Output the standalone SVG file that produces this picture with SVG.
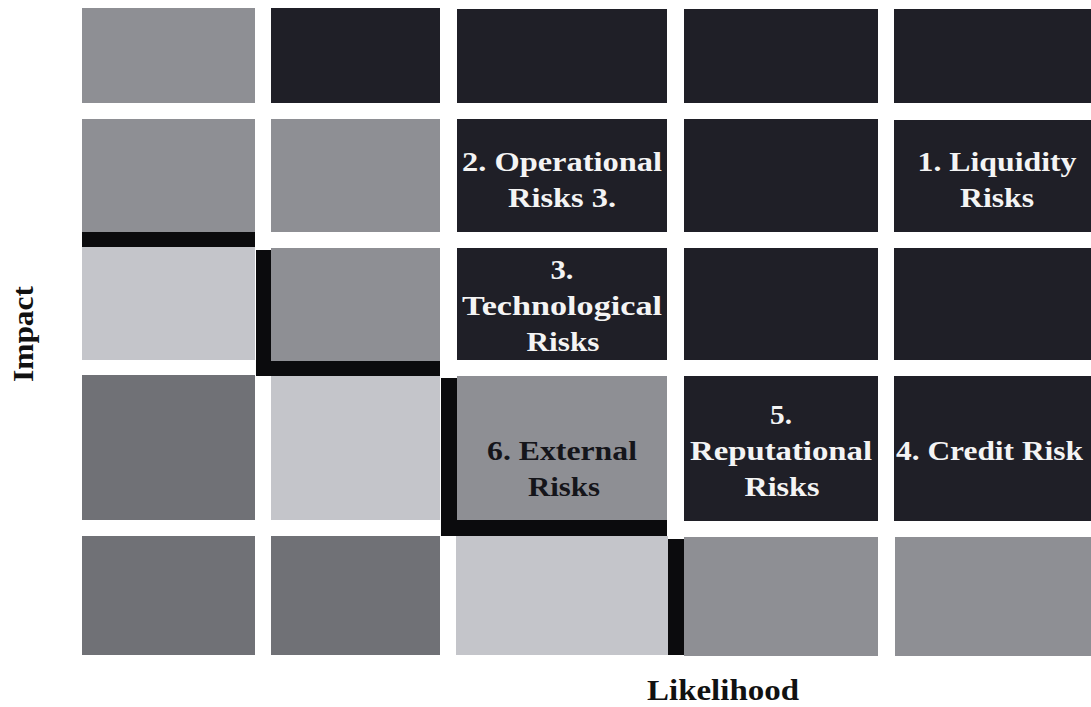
<svg xmlns="http://www.w3.org/2000/svg" width="1091" height="707" viewBox="0 0 1091 707">
<style>
.dark{fill:#1f1f27}
.mid{fill:#8e8f94}
.light{fill:#c4c5ca}
.dim{fill:#707176}
.bar{fill:#0b0b0d}
.t{font-family:"Liberation Serif","DejaVu Serif",serif;font-weight:bold;font-size:28px;text-anchor:middle}
.w{fill:#f4f4f4}
.k{fill:#15151a}
.ax{font-family:"Liberation Serif","DejaVu Serif",serif;font-weight:bold;font-size:29px;fill:#111;text-anchor:middle}
</style>
<rect width="1091" height="707" fill="#ffffff"/>
<!-- row 1 -->
<g id="r1c1"><rect class="mid" x="82" y="8" width="173" height="95"/></g>
<g id="r1c2"><rect class="dark" x="271" y="8" width="169" height="95"/></g>
<g id="r1c3"><rect class="dark" x="457" y="9" width="210" height="94"/></g>
<g id="r1c4"><rect class="dark" x="684" y="9" width="194" height="94"/></g>
<g id="r1c5"><rect class="dark" x="894" y="9" width="200" height="94"/></g>
<!-- row 2 -->
<g id="r2c1"><rect class="mid" x="82" y="119" width="173" height="113"/></g>
<g id="r2c2"><rect class="mid" x="271" y="119" width="169" height="113"/></g>
<g id="r2c3"><rect class="dark" x="457" y="119" width="210" height="113"/>
<text class="t w" x="562" y="171" textLength="200" lengthAdjust="spacingAndGlyphs">2. Operational</text>
<text class="t w" x="562" y="207" textLength="108" lengthAdjust="spacingAndGlyphs">Risks 3.</text></g>
<g id="r2c4"><rect class="dark" x="684" y="119" width="194" height="113"/></g>
<g id="r2c5"><rect class="dark" x="894" y="120" width="200" height="112"/>
<text class="t w" x="997" y="171" textLength="159" lengthAdjust="spacingAndGlyphs">1. Liquidity</text>
<text class="t w" x="997" y="207" textLength="74" lengthAdjust="spacingAndGlyphs">Risks</text></g>
<!-- row 3 -->
<g id="r3c1"><rect class="light" x="82" y="247" width="173" height="113"/></g>
<g id="r3c2"><rect class="mid" x="271" y="248" width="169" height="113"/></g>
<g id="r3c3"><rect class="dark" x="457" y="248" width="210" height="112"/>
<text class="t w" x="562" y="279" textLength="23" lengthAdjust="spacingAndGlyphs">3.</text>
<text class="t w" x="562" y="315" textLength="200" lengthAdjust="spacingAndGlyphs">Technological</text>
<text class="t w" x="563" y="351" textLength="73" lengthAdjust="spacingAndGlyphs">Risks</text></g>
<g id="r3c4"><rect class="dark" x="684" y="248" width="194" height="112"/></g>
<g id="r3c5"><rect class="dark" x="894" y="248" width="200" height="112"/></g>
<!-- row 4 -->
<g id="r4c1"><rect class="dim" x="82" y="375" width="173" height="145"/></g>
<g id="r4c2"><rect class="light" x="271" y="376" width="169" height="144"/></g>
<g id="r4c3"><rect class="mid" x="457" y="376" width="210" height="144"/>
<text class="t k" x="562" y="460" textLength="150" lengthAdjust="spacingAndGlyphs">6. External</text>
<text class="t k" x="564" y="496" textLength="72" lengthAdjust="spacingAndGlyphs">Risks</text></g>
<g id="r4c4"><rect class="dark" x="684" y="376" width="194" height="145"/>
<text class="t w" x="781" y="424" textLength="22" lengthAdjust="spacingAndGlyphs">5.</text>
<text class="t w" x="781" y="460" textLength="182" lengthAdjust="spacingAndGlyphs">Reputational</text>
<text class="t w" x="782" y="496" textLength="75" lengthAdjust="spacingAndGlyphs">Risks</text></g>
<g id="r4c5"><rect class="dark" x="894" y="376" width="200" height="145"/>
<text class="t w" x="989.5" y="460" textLength="187" lengthAdjust="spacingAndGlyphs">4. Credit Risk</text></g>
<!-- row 5 -->
<g id="r5c1"><rect class="dim" x="82" y="536" width="173" height="119"/></g>
<g id="r5c2"><rect class="dim" x="271" y="536" width="169" height="119"/></g>
<g id="r5c3"><rect class="light" x="456" y="536" width="212" height="119"/></g>
<g id="r5c4"><rect class="mid" x="684" y="537" width="194" height="119"/></g>
<g id="r5c5"><rect class="mid" x="895" y="537" width="200" height="119"/></g>
<!-- risk boundary line -->
<g id="boundary">
<rect class="bar" x="82" y="232" width="173" height="15"/>
<rect class="bar" x="256" y="250" width="15" height="126"/>
<rect class="bar" x="256" y="361" width="184" height="15"/>
<rect class="bar" x="441" y="378" width="16" height="158"/>
<rect class="bar" x="441" y="520" width="226" height="16"/>
<rect class="bar" x="668" y="539" width="16" height="116"/>
</g>
<!-- axis labels -->
<g id="axis-x"><text class="ax" x="723" y="700" textLength="152" lengthAdjust="spacingAndGlyphs">Likelihood</text></g>
<g id="axis-y"><text class="ax" transform="translate(33,334) rotate(-90)" x="0" y="0" textLength="96" lengthAdjust="spacingAndGlyphs">Impact</text></g>
</svg>
